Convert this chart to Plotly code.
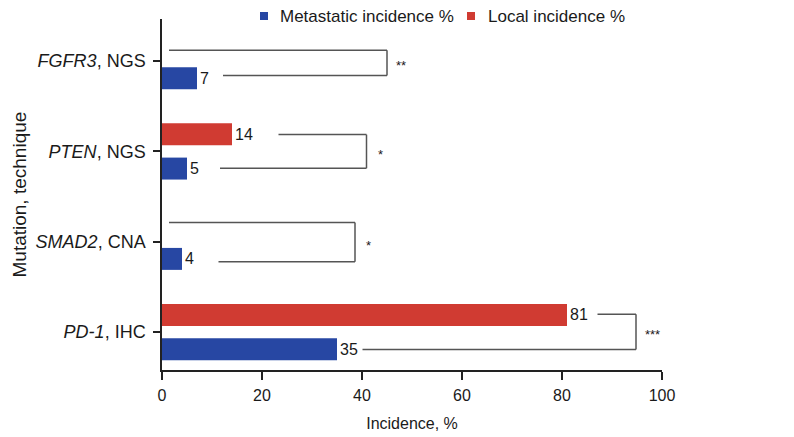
import plotly.graph_objects as go

# ---- data (top-to-bottom display order) ----
mutations = ["FGFR3", "PTEN", "SMAD2", "PD-1"]
techniques = ["NGS", "NGS", "CNA", "IHC"]
metastatic_pct = [7, 5, 4, 35]
local_pct = [None, 14, None, 81]
significance = ["**", "*", "*", "***"]
series_names = ["Metastatic incidence %", "Local incidence %"]

labels = [f"<i>{m}</i>, {t}" for m, t in zip(mutations, techniques)]
order = labels[::-1]  # bottom-to-top for the category axis

BLUE = "#2747a3"
RED = "#d03b32"
FONT = "Liberation Sans, Arial, Helvetica, sans-serif"

# plot-area geometry (px)
L, R, T, B = 154, 140, 11, 75
W, H = 794, 437
PW, PH = W - L - R, H - T - B


def px_x(px):
    return (px - L) / PW


def px_y(py):
    return (H - B - py) / PH


fig = go.Figure()
for name, vals, col in [(series_names[0], metastatic_pct, BLUE), (series_names[1], local_pct, RED)]:
    fig.add_trace(go.Bar(
        y=labels, x=vals, orientation="h", name=name,
        marker=dict(color=col, line=dict(width=0)),
        text=[str(v) if v else "" for v in vals], textposition="outside",
        textfont=dict(size=16, color="#1a1a1a"), constraintext="none",
        cliponaxis=False, showlegend=False,
    ))

# significance brackets: (x_top_start, x_bottom_start, x_right, y_top_off, y_bottom_off, star_x)
brackets = {
    "FGFR3": (1.4, 12.2, 45.0, 0.12, -0.16, 46.4),
    "PTEN": (23.3, 11.6, 40.9, 0.186, -0.186, 42.8),
    "SMAD2": (1.4, 11.3, 38.6, 0.214, -0.222, 40.4),
    "PD-1": (87.1, 40.1, 94.8, 0.197, -0.192, 96.2),
}
LINE = dict(color="#555555", width=1.5)
for lab, mut, sig in zip(labels, mutations, significance):
    idx = order.index(lab)
    xt, xb, xr, yt, yb, xs = brackets[mut]
    fig.add_shape(type="line", xref="x", yref="y", x0=xt, x1=xr, y0=idx + yt, y1=idx + yt, line=LINE)
    fig.add_shape(type="line", xref="x", yref="y", x0=xr, x1=xr, y0=idx + yt, y1=idx + yb, line=LINE)
    fig.add_shape(type="line", xref="x", yref="y", x0=xb, x1=xr, y0=idx + yb, y1=idx + yb, line=LINE)
    fig.add_annotation(x=xs, y=idx + (yt + yb) / 2, xref="x", yref="y", text=sig,
                       showarrow=False, xanchor="left", yanchor="middle", yshift=-3,
                       font=dict(size=13, color="#1a1a1a", family=FONT))

# legend drawn manually (small squares + text) at the top centre
legend_items = [(series_names[0], BLUE, 252, 270), (series_names[1], RED, 459, 478)]
for name, col, sq_x, tx_x in legend_items:
    fig.add_shape(type="rect", xref="paper", yref="paper",
                  x0=px_x(sq_x), x1=px_x(sq_x + 8), y0=px_y(12), y1=px_y(4),
                  fillcolor=col, line=dict(width=0))
    fig.add_annotation(x=px_x(tx_x), y=px_y(8), xref="paper", yref="paper", text=name,
                       showarrow=False, xanchor="left", yanchor="middle",
                       font=dict(size=17, color="#1a1a1a", family=FONT))

# y-axis title as a rotated annotation
fig.add_annotation(x=px_x(11), y=0.5, xref="paper", yref="paper", text="Mutation, technique",
                   textangle=-90, showarrow=False, xanchor="center", yanchor="middle",
                   font=dict(size=19, color="#1a1a1a", family=FONT))

fig.update_layout(
    width=W, height=H,
    margin=dict(l=L, r=R, t=T, b=B, autoexpand=False),
    paper_bgcolor="white", plot_bgcolor="white",
    font=dict(family=FONT, size=16, color="#1a1a1a"),
    barmode="group", bargap=0.24, bargroupgap=0.36, showlegend=False,
    xaxis=dict(range=[0, 100], tickvals=[0, 20, 40, 60, 80, 100], showgrid=False, zeroline=False,
               showline=True, linecolor="#222222", linewidth=1.5, ticks="outside", ticklen=8,
               tickwidth=1.5, tickcolor="#222222", tickfont=dict(size=16), automargin=False,
               ticklabelstandoff=2,
               title=dict(text="Incidence, %", font=dict(size=16), standoff=15)),
    yaxis=dict(type="category", categoryorder="array", categoryarray=order,
               range=[-0.42, 3.466], showgrid=False, zeroline=False, automargin=False,
               showline=True, linecolor="#222222", linewidth=1.5, ticks="outside", ticklen=7,
               tickwidth=1.5, tickcolor="#222222", tickfont=dict(size=18), ticklabelstandoff=4),
)

fig.write_html("out.html")
